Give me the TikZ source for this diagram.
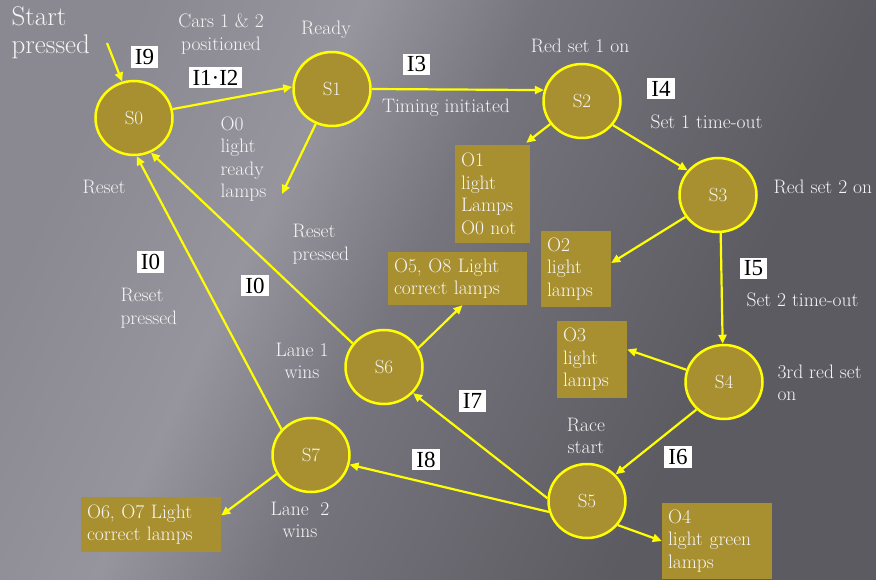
\documentclass[tikz,border=0pt]{standalone}
\usepackage{fontspec}
\usetikzlibrary{arrows.meta,calc,shapes.geometric}
\newfontfamily\timesf{Liberation Serif}
\definecolor{stategold}{RGB}{168,144,48}
\definecolor{stateyellow}{RGB}{255,255,0}
\definecolor{notewhite}{RGB}{245,245,245}
\definecolor{bgA}{RGB}{138,137,145}
\definecolor{bgB}{RGB}{150,149,157}
\definecolor{bgC}{RGB}{118,117,125}
\definecolor{bgD}{RGB}{92,91,98}
\pgfdeclarehorizontalshading{bgshade}{100bp}{color(0bp)=(bgA); color(25bp)=(bgA); color(38bp)=(bgB); color(48bp)=(bgC); color(68bp)=(bgD); color(100bp)=(bgD)}
\tikzset{
  state/.style={ellipse, draw=stateyellow, line width=2.5pt, fill=stategold,
    minimum width=77pt, minimum height=74pt, inner sep=0pt, text=notewhite,
    font=\fontsize{19}{20}\selectfont},
  outbox/.style={fill=stategold, text=notewhite, align=left, inner xsep=6pt,
    inner ysep=4pt, font=\fontsize{19.5}{22.5}\selectfont},
  ilabel/.style={fill=white, text=black, font=\timesf\fontsize{23}{25}\selectfont,
    inner xsep=4pt, inner ysep=3pt},
  note/.style={text=notewhite, font=\fontsize{19.5}{22.5}\selectfont, align=center},
  notel/.style={note, align=left, anchor=west},
  arr/.style={draw=stateyellow, line width=2.2pt, -{Triangle[length=9pt,width=8pt]}}
}
\begin{document}
\begin{tikzpicture}[x=1pt,y=-1pt]
\useasboundingbox (0,0) rectangle (876,580);
\shade[shading=bgshade, shading angle=-25] (0,0) rectangle (876,580);

% states
\node[state] (S0) at (134,118) {S0};
\node[state] (S1) at (332,89) {S1};
\node[state] (S2) at (582,101) {S2};
\node[state] (S3) at (718,195) {S3};
\node[state] (S4) at (724,382) {S4};
\node[state] (S5) at (587,501) {S5};
\node[state] (S6) at (384,367) {S6};
\node[state] (S7) at (311,455) {S7};

% output boxes
\node[outbox, minimum width=75pt, minimum height=98pt, text width=63pt] (O1) at (492.5,194) {O1\\light\\Lamps\\O0 not};
\node[outbox, minimum width=70pt, minimum height=76pt, text width=58pt] (O2) at (576,269) {O2\\light\\lamps};
\node[outbox, minimum width=70pt, minimum height=77pt, text width=58pt] (O3) at (592,359.5) {O3\\light\\lamps};
\node[outbox, minimum width=139pt, minimum height=53pt, text width=127pt] (O5) at (457.5,278.5) {O5, O8 Light\\correct lamps};
\node[outbox, minimum width=140pt, minimum height=55pt, text width=128pt] (O6) at (151,524.5) {O6, O7 Light\\correct lamps};
\node[outbox, minimum width=110pt, minimum height=76pt, text width=98pt] (O4) at (717,541) {O4\\light green\\lamps};

% input labels
\node[ilabel] (I9) at (144.5,57) {I9};
\node[ilabel] (I12) at (215.5,77.5) {I1·I2};
\node[ilabel] (I3) at (416.5,64.5) {I3};
\node[ilabel] (I4) at (661,88.5) {I4};
\node[ilabel] (I5) at (753.5,268.5) {I5};
\node[ilabel] (I0a) at (150.5,262) {I0};
\node[ilabel] (I0b) at (255,285.5) {I0};
\node[ilabel] (I7) at (472.5,401) {I7};
\node[ilabel] (I6) at (678,457) {I6};
\node[ilabel] (I8) at (426,459.5) {I8};

% notes
\node[notel, font=\fontsize{27}{28}\selectfont] (start) at (8,33) {Start\\pressed};
\node[note] (cars) at (221,34) {Cars 1 \& 2\\positioned};
\node[note] (ready) at (326,30) {Ready};
\node[note] (red1) at (580,46) {Red set 1 on};
\node[note] (timing) at (446,108) {Timing initiated};
\node[notel] (o0) at (217,159) {O0\\light\\ready\\lamps};
\node[notel] (set1) at (647,122) {Set 1 time-out};
\node[notel] (red2) at (770,187) {Red set 2 on};
\node[notel] (set2) at (743,300) {Set 2 time-out};
\node[notel] (red3) at (774,383) {3rd red set\\on};
\node[note] (reset) at (104,187) {Reset};
\node[notel] (rp1) at (117,308) {Reset\\pressed};
\node[notel] (rp2) at (289,244) {Reset\\pressed};
\node[note] (lane1) at (302,361) {Lane 1\\wins};
\node[note] (race) at (586,436) {Race\\start};
\node[note] (lane2) at (300,520) {Lane~~2\\wins};

% free ends
\coordinate (startin) at (107,43);
\coordinate (o0end) at (282,194);

% connectors
\draw[arr] (startin) -- (S0.108);
\draw[arr] (S0.13) -- (S1.177);
\draw[arr] (S1.-115) -- (o0end);
\draw[arr] (S1.0) -- (S2.164);
\draw[arr] (S2.-144) -- ([xshift=-4pt,yshift=2pt]O1.north east);
\draw[arr] (S2.-38) -- (S3.141);
\draw[arr] (S3.-146) -- ([yshift=6pt]O2.east);
\draw[arr] (S3.-86) -- (S4.92);
\draw[arr] (S4.162) -- ([yshift=10pt]O3.east);
\draw[arr] (S4.-135) -- (S5.43);
\draw[arr] (S5.-38) -- (O4.west);
\draw[arr] (S5.176) -- (S6.-42);
\draw[arr] (S5.-164) -- (S7.-14);
\draw[arr] (S6.29) -- ([xshift=5pt]O5.south);
\draw[arr] (S6.143) -- (S0.-64);
\draw[arr] (S7.139) -- (S0.-86);
\draw[arr] (S7.-151) -- ([yshift=9pt]O6.east);
\end{tikzpicture}
\end{document}
